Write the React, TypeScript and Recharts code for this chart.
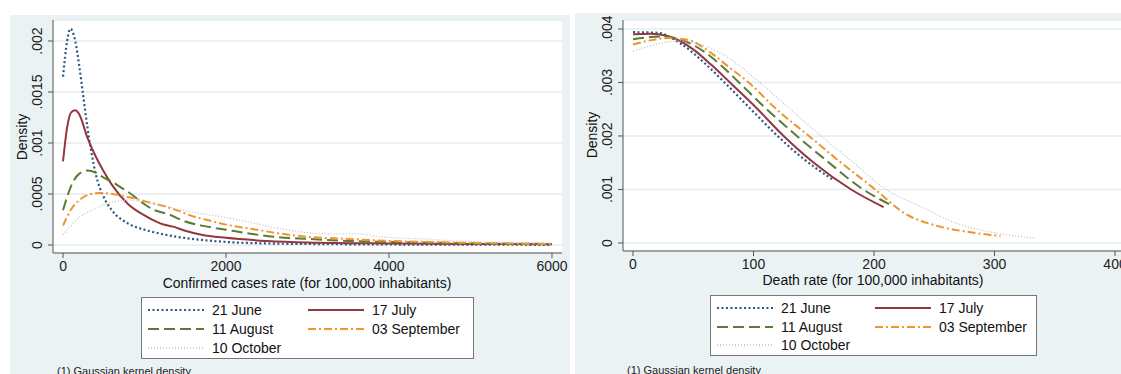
import { LineChart, Line, XAxis, YAxis, CartesianGrid } from 'recharts';

const FONT = '"Liberation Sans", Arial, Helvetica, sans-serif';

// Left panel: confirmed cases rate (x) -> density (y)
const casesJune = [
  [0, 0.00165], [50, 0.002], [90, 0.00212], [150, 0.002], [200, 0.00175], [250, 0.00145],
  [300, 0.00115], [350, 0.0009], [400, 0.0007], [500, 0.00047], [600, 0.00034], [800, 0.00021],
  [1000, 0.00015], [1200, 0.00011], [1400, 0.00008], [1700, 0.00005], [2000, 0.00003],
  [2500, 0.000015], [3000, 0.00001], [4000, 0.000005], [5000, 0.000003], [6000, 0.000002],
];
const casesJuly = [
  [0, 0.00082], [50, 0.00115], [100, 0.0013], [150, 0.00132], [200, 0.00128], [300, 0.00105],
  [400, 0.00087], [500, 0.00072], [600, 0.00059], [800, 0.0004], [1000, 0.00029], [1200, 0.00021],
  [1350, 0.00018], [1500, 0.00014], [1700, 0.0001], [2000, 0.00007], [2500, 0.00004],
  [3000, 0.000025], [4000, 0.000015], [5000, 0.00001], [6000, 0.000008],
];
const casesAugust = [
  [0, 0.00034], [50, 0.00047], [100, 0.00058], [200, 0.0007], [300, 0.00073], [400, 0.00071],
  [500, 0.00066], [600, 0.00062], [700, 0.00057], [800, 0.00052], [900, 0.00046], [1000, 0.0004],
  [1100, 0.00035], [1300, 0.0003], [1500, 0.00023], [1700, 0.00019], [2000, 0.00015],
  [2300, 0.00011], [2600, 0.00008], [3000, 0.00006], [3500, 0.00004], [4000, 0.00003],
  [5000, 0.000017], [6000, 0.00001],
];
const casesSeptember = [
  [0, 0.00019], [100, 0.00035], [200, 0.00044], [300, 0.00049], [450, 0.00051], [600, 0.0005],
  [800, 0.00047], [1000, 0.00043], [1200, 0.00039], [1400, 0.00034], [1600, 0.00028],
  [1800, 0.00024], [2000, 0.0002], [2300, 0.00016], [2600, 0.00012], [3000, 0.00008],
  [3500, 0.00006], [4000, 0.00004], [4500, 0.00003], [5000, 0.00002], [6000, 0.00001],
];
const casesOctober = [
  [0, 0.0001], [200, 0.00027], [400, 0.00036], [600, 0.00042], [800, 0.00044], [1000, 0.00042],
  [1300, 0.00037], [1600, 0.00032], [2000, 0.00027], [2300, 0.00022], [2600, 0.00017],
  [2900, 0.00013], [3300, 0.00011], [3600, 0.00011], [3900, 0.00008], [4400, 0.00006],
  [4800, 0.00004], [5200, 0.00003], [6000, 0.00002],
];

// Right panel: death rate (x) -> density (y)
const deathJune = [
  [0, 0.00394], [20, 0.00393], [40, 0.00372], [60, 0.00335], [76, 0.003], [100, 0.00245],
  [120, 0.002], [140, 0.0016], [166, 0.00118],
];
const deathJuly = [
  [0, 0.0039], [15, 0.00391], [30, 0.00386], [50, 0.00362], [65, 0.00333], [80, 0.00301],
  [100, 0.00258], [125, 0.002], [150, 0.0015], [181, 0.001], [208, 0.00067],
];
const deathAugust = [
  [0, 0.00381], [25, 0.00386], [40, 0.0038], [60, 0.00356], [75, 0.00328], [88, 0.003],
  [110, 0.00252], [136, 0.002], [160, 0.00155], [191, 0.001], [214, 0.00071],
];
const deathSeptember = [
  [0, 0.00371], [30, 0.00383], [45, 0.0038], [65, 0.00355], [80, 0.00328], [96, 0.003],
  [120, 0.00248], [146, 0.002], [170, 0.00155], [201, 0.001], [225, 0.00056], [254, 0.00031],
  [280, 0.0002], [305, 0.00013],
];
const deathOctober = [
  [0, 0.00358], [20, 0.00372], [40, 0.00378], [60, 0.00368], [80, 0.00345], [105, 0.003],
  [130, 0.00251], [156, 0.002], [183, 0.0015], [210, 0.001], [239, 0.00068], [268, 0.00037],
  [303, 0.00018], [334, 0.00009],
];

const seriesNames = ['21 June', '17 July', '11 August', '03 September', '10 October'];
const casesXTicks = [0, 2000, 4000, 6000];
const casesYTicks = [0, 0.0005, 0.001, 0.0015, 0.002];
const deathXTicks = [0, 100, 200, 300, 400];
const deathYTicks = [0, 0.001, 0.002, 0.003, 0.004];

const styles = [
  { color: '#2c5484', dash: '2 2.5', width: 2.2 },
  { color: '#93363d', dash: undefined, width: 2 },
  { color: '#5b7a34', dash: '11 5', width: 2 },
  { color: '#ee9530', dash: '8 3 2 3', width: 2 },
  { color: '#c2c2c2', dash: '1 2', width: 1.3 },
];

const toPoints = (pairs: number[][]) => pairs.map(([x, y]) => ({ x, y }));

const fmtDensity = (v: number) => (v === 0 ? '0' : String(v).replace(/^0/, ''));

const YTick = (props: any) => {
  const { x, y, payload } = props;
  const bx = x - 4;
  return (
    <text
      x={bx}
      y={y}
      transform={`rotate(-90 ${bx} ${y})`}
      textAnchor="middle"
      fontSize={14}
      fill="#222"
      fontFamily={FONT}
    >
      {fmtDensity(payload.value)}
    </text>
  );
};

interface PanelProps {
  left: number;
  width: number;
  marginRight: number;
  marginBottom: number;
  xDomain: number[];
  xTicks: number[];
  yDomain: number[];
  yTicks: number[];
  series: number[][][];
}

function DensityPanel({ left, width, marginRight, marginBottom, xDomain, xTicks, yDomain, yTicks, series }: PanelProps) {
  return (
    <div style={{ position: 'absolute', left, top: 0 }}>
      <LineChart
        width={width}
        height={374}
        margin={{ top: 20, right: marginRight, bottom: marginBottom, left: 0 }}
      >
        <CartesianGrid vertical={false} stroke="#e4edef" strokeWidth={1.5} fill="#ffffff" />
        <XAxis
          type="number"
          dataKey="x"
          domain={xDomain}
          ticks={xTicks}
          allowDataOverflow
          height={30}
          tickSize={5}
          tickMargin={3}
          stroke="#555"
          tick={{ fontSize: 14, fill: '#222', fontFamily: FONT }}
        />
        <YAxis
          type="number"
          dataKey="y"
          domain={yDomain}
          ticks={yTicks}
          allowDataOverflow
          width={53}
          tickSize={5}
          stroke="#555"
          tick={<YTick />}
        />
        {series.map((pairs, i) => (
          <Line
            key={seriesNames[i]}
            data={toPoints(pairs)}
            dataKey="y"
            name={seriesNames[i]}
            type="monotone"
            stroke={styles[i].color}
            strokeWidth={styles[i].width}
            strokeDasharray={styles[i].dash}
            dot={false}
            activeDot={false}
            isAnimationActive={false}
          />
        ))}
      </LineChart>
    </div>
  );
}

function LegendBox({ left, top, width, height, rowGap, col1, col2 }: any) {
  const cells = seriesNames.map((name, i) => ({
    name,
    style: styles[i],
    col: i % 2,
    row: Math.floor(i / 2),
  }));
  return (
    <div
      style={{
        position: 'absolute',
        left,
        top,
        width,
        height,
        boxSizing: 'border-box',
        border: '1px solid #777',
        background: '#fff',
        fontFamily: FONT,
        fontSize: 14,
        color: '#111',
      }}
    >
      {cells.map((c) => {
        const sx = c.col === 0 ? col1 : col2;
        const cy = 12 + c.row * rowGap;
        return (
          <div key={c.name}>
            <svg
              width={56}
              height={6}
              style={{ position: 'absolute', left: sx, top: cy - 3 }}
            >
              <line
                x1={0}
                y1={3}
                x2={56}
                y2={3}
                stroke={c.style.color}
                strokeWidth={c.style.width}
                strokeDasharray={c.style.dash}
              />
            </svg>
            <div
              style={{
                position: 'absolute',
                left: sx + 64,
                top: cy - 9,
                lineHeight: '18px',
                whiteSpace: 'nowrap',
              }}
            >
              {c.name}
            </div>
          </div>
        );
      })}
    </div>
  );
}

export default function App() {
  return (
    <div
      style={{
        position: 'absolute',
        left: 0,
        top: 0,
        width: 1121,
        height: 374,
        overflow: 'hidden',
        background: '#fff',
      }}
    >
      <div style={{ position: 'absolute', left: 10, top: 15, width: 560, height: 359, background: '#eaf2f3' }} />
      <div style={{ position: 'absolute', left: 575, top: 13, width: 560, height: 361, background: '#eaf2f3' }} />

      <DensityPanel
        left={0}
        width={570}
        marginRight={8}
        marginBottom={91}
        xDomain={[-123, 6123]}
        xTicks={casesXTicks}
        yDomain={[-0.0000784, 0.002206]}
        yTicks={casesYTicks}
        series={[casesJune, casesJuly, casesAugust, casesSeptember, casesOctober]}
      />
      <DensityPanel
        left={570}
        width={560}
        marginRight={7}
        marginBottom={93}
        xDomain={[-8.3, 406.6]}
        xTicks={deathXTicks}
        yDomain={[-0.00015, 0.004168]}
        yTicks={deathYTicks}
        series={[deathJune, deathJuly, deathAugust, deathSeptember, deathOctober]}
      />

      <svg
        width={1121}
        height={374}
        style={{ position: 'absolute', left: 0, top: 0, pointerEvents: 'none' }}
        fontFamily={FONT}
      >
        <text x={22} y={137} transform="rotate(-90 22 137)" textAnchor="middle" dominantBaseline="central" fontSize={14} fill="#111">
          Density
        </text>
        <text x={307} y={283} textAnchor="middle" dominantBaseline="central" fontSize={14} fill="#111">
          Confirmed cases rate (for 100,000 inhabitants)
        </text>
        <text x={592} y={135} transform="rotate(-90 592 135)" textAnchor="middle" dominantBaseline="central" fontSize={14} fill="#111">
          Density
        </text>
        <text x={873} y={280} textAnchor="middle" dominantBaseline="central" fontSize={14} fill="#111">
          Death rate (for 100,000 inhabitants)
        </text>
        <text x={57} y={375} fontSize={11} fill="#222">(1) Gaussian kernel density</text>
        <text x={627} y={374} fontSize={11} fill="#222">(1) Gaussian kernel density</text>
      </svg>

      <LegendBox left={141} top={297} width={333} height={62} rowGap={19} col1={6} col2={166} />
      <LegendBox left={710} top={295} width={327} height={61} rowGap={18.5} col1={6} col2={164} />
    </div>
  );
}
